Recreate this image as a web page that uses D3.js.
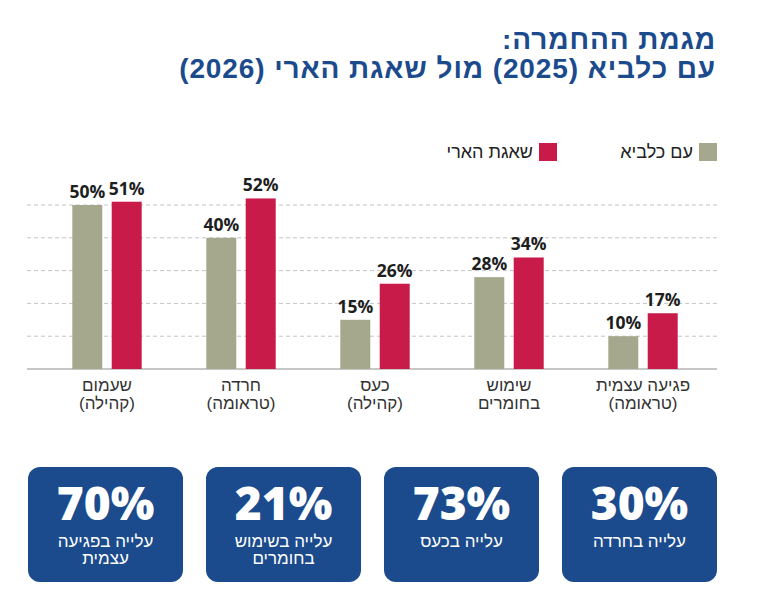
<!DOCTYPE html>
<html lang="he">
<head>
<meta charset="utf-8">
<script src="https://cdn.jsdelivr.net/npm/d3@7"></script>
<style>
  body { margin: 0; background: #fff; }
  svg { display: block; font-family: "Liberation Sans", "DejaVu Sans", sans-serif; }
  .num { font-family: "Open Sans", "DejaVu Sans", sans-serif; }
</style>
</head>
<body>
<div id="chart"></div>
<script>
// categories, right to left as read
const categories = [
    ["פגיעה עצמית", "(טראומה)"],
    ["שימוש", "בחומרים"],
    ["כעס", "(קהילה)"],
    ["חרדה", "(טראומה)"],
    ["שעמום", "(קהילה)"]
]
const series = ["עם כלביא", "שאגת הארי"]
const values2025 = [10, 28, 15, 40, 50]
const values2026 = [17, 34, 26, 52, 51]
const gridTicks = [10, 20, 30, 40, 50]

// boxes, left to right
const boxValues = [70, 21, 73, 30]
const boxLabels = [
    ["עלייה בפגיעה", "עצמית"],
    ["עלייה בשימוש", "בחומרים"],
    ["עלייה בכעס"],
    ["עלייה בחרדה"]
]

const titleLines = ["מגמת ההחמרה:", "עם כלביא (2025) מול שאגת הארי (2026)"]

const width = 768
const height = 605
const blue = "#1b4b8d"
const colors = ["#a5a88c", "#c81b4a"]

const svg = d3.select("#chart")
    .append("svg")
    .attr("width", width)
    .attr("height", height)
    .attr("viewBox", [0, 0, width, height])

// title
svg.append("g")
    .selectAll("text")
    .data(titleLines)
    .join("text")
    .attr("x", 716)
    .attr("y", (d, i) => 49 + i * 29)
    .attr("direction", "rtl")
    .attr("text-anchor", "start")
    .attr("fill", blue)
    .attr("font-size", 28)
    .attr("font-weight", 700)
    .attr("letter-spacing", 0.9)
    .text(d => d)

// legend
const legendX = [717, 557]
const legend = svg.append("g")
    .selectAll("g")
    .data(series)
    .join("g")
    .attr("transform", (d, i) => `translate(${legendX[i]},143)`)
legend.append("rect")
    .attr("x", -18)
    .attr("width", 18)
    .attr("height", 18)
    .attr("fill", (d, i) => colors[i])
legend.append("text")
    .attr("x", -24)
    .attr("y", 15)
    .attr("direction", "rtl")
    .attr("text-anchor", "start")
    .attr("font-size", 18)
    .attr("fill", "#222")
    .text(d => d)

// scales
const x0 = d3.scaleBand()
    .domain(d3.range(categories.length))
    .range([710, 40])
const x1 = d3.scaleBand()
    .domain(d3.range(series.length))
    .range([0, 69.4])
    .paddingInner(0.239)
const y = d3.scaleLinear()
    .domain([0, 50])
    .range([369, 205])

// grid
svg.append("g")
    .selectAll("line")
    .data(gridTicks)
    .join("line")
    .attr("x1", 27)
    .attr("x2", 717)
    .attr("y1", d => y(d))
    .attr("y2", d => y(d))
    .attr("stroke", "#c4c4c4")
    .attr("stroke-width", 1)
    .attr("stroke-dasharray", "4,3")

svg.append("line")
    .attr("x1", 27)
    .attr("x2", 717)
    .attr("y1", y(0))
    .attr("y2", y(0))
    .attr("stroke", "#b5b5b5")
    .attr("stroke-width", 1.5)

// bars
const groups = svg.append("g")
    .selectAll("g")
    .data(categories.map((c, i) => [values2025[i], values2026[i]]))
    .join("g")
    .attr("transform", (d, i) => `translate(${x0(i) + x0.bandwidth() / 2 - 34.7},0)`)

groups.selectAll("rect")
    .data(d => d)
    .join("rect")
    .attr("x", (d, i) => x1(i))
    .attr("y", d => y(d))
    .attr("width", x1.bandwidth())
    .attr("height", d => y(0) - y(d))
    .attr("fill", (d, i) => colors[i])

groups.selectAll("text")
    .data(d => d)
    .join("text")
    .attr("class", "num")
    .attr("x", (d, i) => x1(i) + x1.bandwidth() / 2)
    .attr("y", d => y(d) - 7)
    .attr("text-anchor", "middle")
    .attr("font-size", 17.5)
    .attr("font-weight", 700)
    .attr("fill", "#1e1e1e")
    .text(d => d + "%")

// category labels
svg.append("g")
    .selectAll("text")
    .data(categories)
    .join("text")
    .attr("x", (d, i) => x0(i) + x0.bandwidth() / 2)
    .attr("direction", "rtl")
    .attr("text-anchor", "middle")
    .attr("font-size", 17)
    .attr("fill", "#333")
    .selectAll("tspan")
    .data(d => d)
    .join("tspan")
    .attr("x", function () { return this.parentNode.getAttribute("x") })
    .attr("y", (d, i) => 391 + i * 17.5)
    .text(d => d)

// boxes
const xb = d3.scaleBand()
    .domain(d3.range(boxValues.length))
    .range([28, 717])
    .paddingInner(0.129)

const boxes = svg.append("g")
    .selectAll("g")
    .data(boxValues)
    .join("g")
    .attr("transform", (d, i) => `translate(${xb(i)},467)`)

boxes.append("rect")
    .attr("width", xb.bandwidth())
    .attr("height", 115)
    .attr("rx", 12)
    .attr("fill", blue)

boxes.append("text")
    .attr("class", "num")
    .attr("x", xb.bandwidth() / 2)
    .attr("y", 53)
    .attr("text-anchor", "middle")
    .attr("font-size", 46)
    .attr("font-weight", 800)
    .attr("fill", "#fff")
    .text(d => d + "%")

boxes.append("text")
    .attr("direction", "rtl")
    .attr("text-anchor", "middle")
    .attr("font-size", 17)
    .attr("fill", "#fff")
    .selectAll("tspan")
    .data((d, i) => boxLabels[i])
    .join("tspan")
    .attr("x", xb.bandwidth() / 2)
    .attr("y", (d, i) => 80 + i * 17)
    .text(d => d)
</script>
</body>
</html>
